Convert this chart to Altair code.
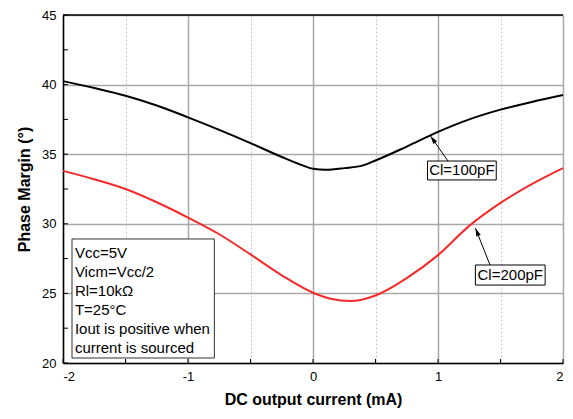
import altair as alt
import pandas as pd

# ---- data ----
x_black = [-2, -1.75, -1.5, -1.25, -1, -0.75, -0.5, -0.25, -0.1, 0, 0.1, 0.25, 0.4, 0.5, 0.75, 1, 1.25, 1.5, 1.75, 2]
cl100 = [40.25, 39.75, 39.2, 38.5, 37.65, 36.75, 35.8, 34.8, 34.25, 33.95, 33.88, 34.0, 34.2, 34.55, 35.55, 36.6, 37.5, 38.2, 38.75, 39.25]
x_red = [-2, -1.75, -1.5, -1.25, -1, -0.75, -0.5, -0.25, 0, 0.15, 0.3, 0.5, 0.75, 1, 1.25, 1.5, 1.75, 2]
cl200 = [33.8, 33.2, 32.5, 31.55, 30.45, 29.25, 27.8, 26.3, 25.05, 24.6, 24.45, 24.85, 26.1, 27.75, 29.85, 31.5, 32.85, 34.0]
series = ["Cl=100pF", "Cl=200pF"]
colors = ["#000000", "#f42a2a"]

x_ticks = [-2, -1.5, -1, -0.5, 0, 0.5, 1, 1.5, 2]
y_ticks = [20, 22.5, 25, 27.5, 30, 32.5, 35, 37.5, 40, 42.5, 45]

param_lines = ["Vcc=5V", "Vicm=Vcc/2", "Rl=10k\u03a9", "T=25\u00b0C",
               "Iout is positive when", "current is sourced"]

# annotation anchors (data units)
param_box = {"x": -1.928, "x2": -0.789, "y": 28.91, "y2": 20.36}
param_text_x = -1.905
param_text_y = [27.92, 26.56, 25.17, 23.81, 22.42, 21.06]

label_boxes = pd.DataFrame({
    "x": [0.916, 1.299], "x2": [1.466, 1.857],
    "y": [34.51, 27.04], "y2": [33.15, 25.6],
    "cx": [1.191, 1.578], "cy": [33.83, 26.32],
    "text": series,
})
arrows = pd.DataFrame({
    "x": [1.08, 1.416], "y": [34.51, 27.04],
    "x2": [0.94, 1.30], "y2": [36.3, 29.68],
    "angle": [324, 338],
})

W, H = 500, 348
FONT = "Liberation Sans"

df = pd.concat([
    pd.DataFrame({"x": x_black, "y": cl100, "series": series[0]}),
    pd.DataFrame({"x": x_red, "y": cl200, "series": series[1]}),
])

xscale = alt.Scale(domain=[-2, 2], nice=False, zero=False)
yscale = alt.Scale(domain=[20, 45], nice=False, zero=False)

x_axis = alt.Axis(
    values=x_ticks,
    labelExpr="datum.value % 1 === 0 ? '' + datum.value : ''",
    grid=True,
    gridColor={"condition": {"test": "datum.value % 1 !== 0", "value": "#c8c8c8"}, "value": "#a8a8a8"},
    gridDash={"condition": {"test": "datum.value % 1 !== 0", "value": [2, 2]}, "value": []},
    gridWidth={"condition": {"test": "datum.value % 1 !== 0", "value": 1}, "value": 1.5},
    ticks=False, domainColor="#000", domainWidth=1.5,
    labelFont=FONT, labelFontSize=13, labelColor="#000", labelPadding=7,
    titleFont=FONT, titleFontSize=16, titleFontWeight="bold", titleColor="#000", titlePadding=8,
)
y_axis = alt.Axis(
    values=y_ticks,
    labelExpr="datum.value % 5 === 0 ? '' + datum.value : ''",
    grid=True,
    gridColor={"condition": {"test": "datum.value % 5 !== 0", "value": "#c8c8c8"}, "value": "#a8a8a8"},
    gridDash={"condition": {"test": "datum.value % 5 !== 0", "value": [2, 2]}, "value": []},
    gridWidth={"condition": {"test": "datum.value % 5 !== 0", "value": 1}, "value": 1.5},
    ticks=False, domainColor="#000", domainWidth=1.5,
    labelFont=FONT, labelFontSize=13, labelColor="#000", labelPadding=7,
    titleFont=FONT, titleFontSize=16, titleFontWeight="bold", titleColor="#000", titlePadding=9,
)

lines = alt.Chart(df).mark_line(interpolate="monotone", strokeWidth=2).encode(
    x=alt.X("x:Q", scale=xscale, axis=x_axis, title="DC output current (mA)"),
    y=alt.Y("y:Q", scale=yscale, axis=y_axis, title="Phase Margin (\u00b0)"),
    color=alt.Color("series:N", scale=alt.Scale(domain=series, range=colors), legend=None),
    detail="series:N",
)

one = pd.DataFrame({"a": [0]})
top_border = alt.Chart(one).mark_rule(color="#000", strokeWidth=1.5).encode(
    x=alt.value(0), x2=alt.value(W), y=alt.value(0))

xt = alt.Chart(pd.DataFrame({"x": x_ticks})).mark_rule(color="#000", strokeWidth=1).encode(
    x=alt.X("x:Q", scale=xscale), y=alt.value(H), y2=alt.value(H - 4))
yt = alt.Chart(pd.DataFrame({"y": y_ticks})).mark_rule(color="#000", strokeWidth=1).encode(
    y=alt.Y("y:Q", scale=yscale), x=alt.value(0), x2=alt.value(5))

pbox = alt.Chart(pd.DataFrame([param_box])).mark_rect(
    fill="white", stroke="#333", strokeWidth=1).encode(
    x=alt.X("x:Q", scale=xscale), x2="x2:Q",
    y=alt.Y("y:Q", scale=yscale), y2="y2:Q")
ptext = alt.Chart(pd.DataFrame({"t": param_lines, "x": param_text_x, "y": param_text_y})).mark_text(
    align="left", baseline="middle", font=FONT, fontSize=15, color="#000").encode(
    x=alt.X("x:Q", scale=xscale), y=alt.Y("y:Q", scale=yscale), text="t:N")

arrow_lines = alt.Chart(arrows).mark_rule(color="#000", strokeWidth=1).encode(
    x=alt.X("x:Q", scale=xscale), x2="x2:Q",
    y=alt.Y("y:Q", scale=yscale), y2="y2:Q")
arrow_heads = alt.Chart(arrows).mark_point(
    shape="M0,0L-0.6,2L0.6,2Z", filled=True, color="#000", size=64, opacity=1).encode(
    x=alt.X("x2:Q", scale=xscale), y=alt.Y("y2:Q", scale=yscale), angle=alt.Angle("angle:Q", scale=None))

lboxes = alt.Chart(label_boxes).mark_rect(fill="white", stroke="#000", strokeWidth=1).encode(
    x=alt.X("x:Q", scale=xscale), x2="x2:Q",
    y=alt.Y("y:Q", scale=yscale), y2="y2:Q")
ltext = alt.Chart(label_boxes).mark_text(
    align="center", baseline="middle", font=FONT, fontSize=15, color="#000").encode(
    x=alt.X("cx:Q", scale=xscale), y=alt.Y("cy:Q", scale=yscale), text="text:N")

chart = alt.layer(
    lines, top_border, xt, yt, pbox, ptext, arrow_lines, arrow_heads, lboxes, ltext
).properties(
    width=W, height=H,
    autosize=alt.AutoSizeParams(type="none"),
    padding={"left": 55, "top": 7, "right": 2, "bottom": 46},
).configure_view(stroke=None).configure(background="white")

chart.save("out.html", embed_options={"renderer": "svg", "actions": False})
